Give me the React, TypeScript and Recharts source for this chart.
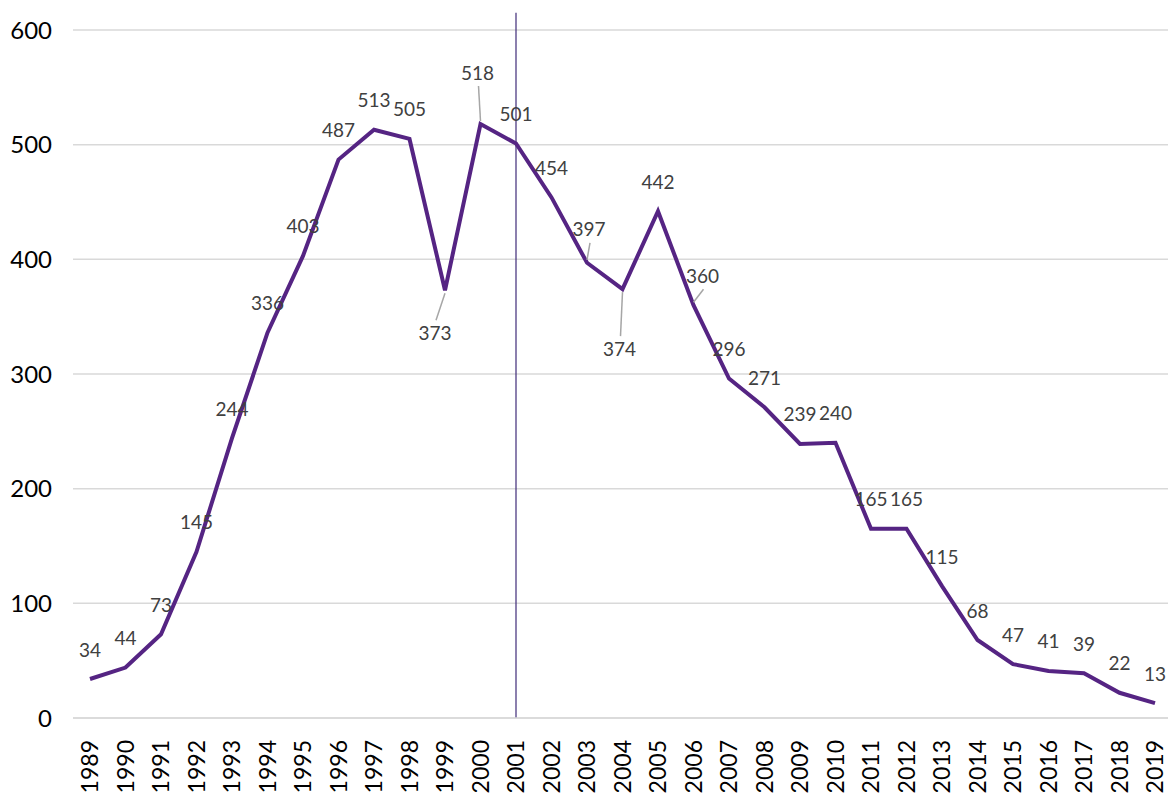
import React from 'react';
import {
  LineChart,
  Line,
  XAxis,
  YAxis,
  CartesianGrid,
  ReferenceLine,
} from 'recharts';

const years = [
  '1989', '1990', '1991', '1992', '1993', '1994', '1995', '1996', '1997', '1998',
  '1999', '2000', '2001', '2002', '2003', '2004', '2005', '2006', '2007', '2008',
  '2009', '2010', '2011', '2012', '2013', '2014', '2015', '2016', '2017', '2018',
  '2019',
];

const counts = [
  34, 44, 73, 145, 244, 336, 403, 487, 513, 505,
  373, 518, 501, 454, 397, 374, 442, 360, 296, 271,
  239, 240, 165, 165, 115, 68, 47, 41, 39, 22,
  13,
];

const yTicks = [0, 100, 200, 300, 400, 500, 600];

const markerYear = '2001';

// where a few labels were pulled away from their point (with a leader line)
const labelNudge: Record<number, { dx: number; dy: number }> = {
  10: { dx: -10, dy: 42 },
  11: { dx: -3, dy: -52 },
  14: { dx: 2, dy: -34 },
  15: { dx: -3, dy: 59 },
  17: { dx: 9, dy: -30 },
};

const data = years.map((year, i) => ({ year, count: counts[i] }));

const LINE_COLOR = '#552483';
const FONT = 'Lato, "Open Sans", sans-serif';

const PointLabel = (props: any) => {
  const { x, y, value, index } = props;
  if (x == null || y == null) return null;
  const nudge = labelNudge[index];
  const lx = x + (nudge ? nudge.dx : 0);
  const ly = y + (nudge ? nudge.dy : -30);
  let leader = null;
  if (nudge) {
    const below = nudge.dy > 0;
    const startY = below ? ly - 12 : ly + 14;
    const endY = below ? y + 3 : y - 3;
    leader = (
      <line x1={lx + 1} y1={startY} x2={x} y2={endY} stroke="#a6a6a6" strokeWidth={1.5} />
    );
  }
  return (
    <g>
      {leader}
      <text
        x={lx}
        y={ly}
        textAnchor="middle"
        dominantBaseline="central"
        fill="#404040"
        fontSize={19}
        fontFamily={FONT}
      >
        {value}
      </text>
    </g>
  );
};

const YearTick = (props: any) => {
  const { x, y, payload } = props;
  return (
    <text
      transform={`translate(${x}, ${y + 14}) rotate(-90)`}
      textAnchor="end"
      dy="0.36em"
      fill="#000"
      fontSize={23}
      fontFamily={FONT}
    >
      {payload.value}
    </text>
  );
};

const App = () => {
  return (
    <div style={{ position: 'fixed', left: 0, top: 0, width: 1168, height: 796, background: '#fff' }}>
      <LineChart
        width={1168}
        height={796}
        data={data}
        margin={{ top: 30, right: 0, bottom: 0, left: 0 }}
        style={{ fontFamily: FONT }}
      >
        <CartesianGrid vertical={false} stroke="#d9d9d9" strokeWidth={1.5} />
        <XAxis
          dataKey="year"
          interval={0}
          height={78}
          padding={{ left: 17, right: 13 }}
          axisLine={{ stroke: '#d9d9d9', strokeWidth: 1.5 }}
          tickLine={false}
          tick={<YearTick />}
        />
        <YAxis
          domain={[0, 600]}
          ticks={yTicks}
          width={73}
          axisLine={false}
          tickLine={false}
          tickSize={0}
          tickMargin={21}
          tick={{ fill: '#000', fontSize: 24, fontFamily: FONT }}
        />
        <ReferenceLine
          segment={[
            { x: markerYear, y: 0 },
            { x: markerYear, y: 615 },
          ]}
          stroke="#3f2a78"
          strokeWidth={1.2}
          ifOverflow="visible"
        />
        <Line
          type="linear"
          dataKey="count"
          stroke={LINE_COLOR}
          strokeWidth={4}
          dot={false}
          activeDot={false}
          isAnimationActive={false}
          label={<PointLabel />}
        />
      </LineChart>
    </div>
  );
};

export default App;
